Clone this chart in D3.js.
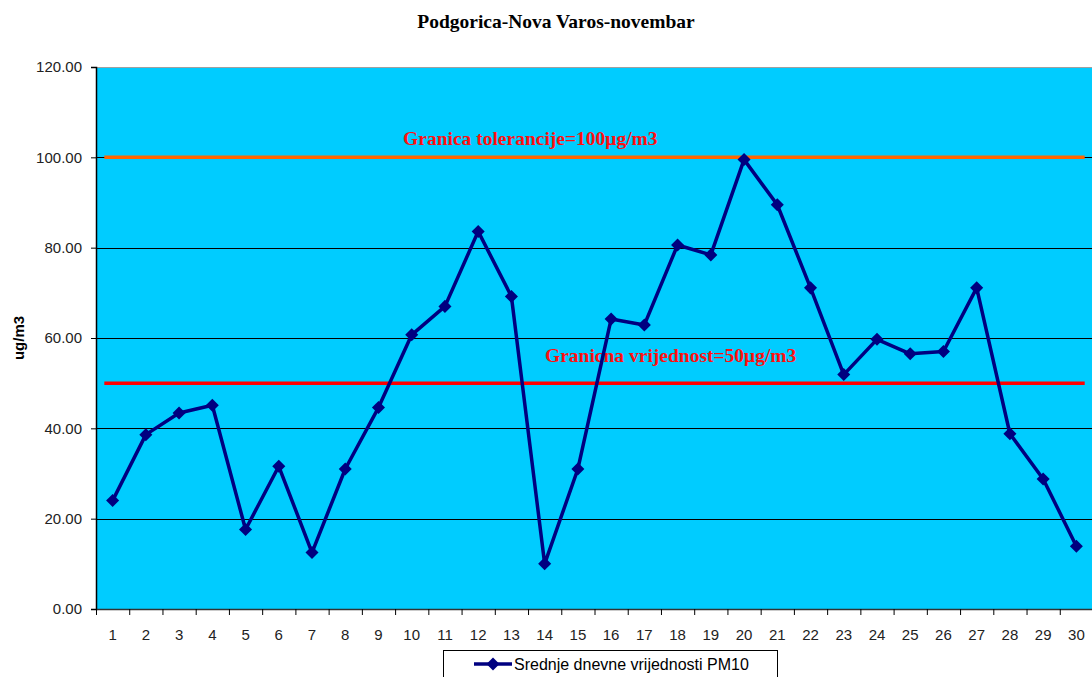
<!DOCTYPE html>
<html>
<head>
<meta charset="utf-8">
<script src="https://cdn.jsdelivr.net/npm/d3@7"></script>
<style>
  html, body { margin: 0; padding: 0; background: #ffffff; }
  svg { display: block; }
</style>
</head>
<body>
<script>
const days = [1,2,3,4,5,6,7,8,9,10,11,12,13,14,15,16,17,18,19,20,21,22,23,24,25,26,27,28,29,30];
const pm10 = [24.0,38.6,43.4,45.1,17.6,31.6,12.5,31.0,44.6,60.7,67.0,83.6,69.2,10.0,31.0,64.2,62.9,80.6,78.4,99.5,89.5,71.1,51.9,59.7,56.5,57.0,71.1,38.8,28.8,13.9];
const yTicks = [0,20,40,60,80,100,120];
const limits = [
  {value: 100, label: "Granica tolerancije=100μg/m3", color: "#FF6600"},
  {value: 50, label: "Granicna vrijednost=50μg/m3", color: "#FF0000"}
];
const title = "Podgorica-Nova Varos-novembar";
const yTitle = "ug/m3";
const seriesName = "Srednje dnevne vrijednosti PM10";

const W = 1092, H = 677;
const plot = {left: 96, right: 1093, top: 67, bottom: 609};

const svg = d3.select("body").append("svg").attr("width", W).attr("height", H);

const x = d3.scaleBand().domain(days).range([plot.left, plot.right]).padding(0);
const y = d3.scaleLinear().domain([0, 120]).range([plot.bottom, plot.top]);
const bw = x.bandwidth();
const cx = d => x(d) + bw / 2;

// plot background
svg.append("rect")
  .attr("x", plot.left).attr("y", plot.top)
  .attr("width", plot.right - plot.left).attr("height", plot.bottom - plot.top)
  .attr("fill", "#00CCFF");

// top border
svg.append("line")
  .attr("x1", plot.left).attr("x2", plot.right)
  .attr("y1", plot.top + 0.5).attr("y2", plot.top + 0.5)
  .attr("stroke", "#a0a0a0").attr("stroke-width", 1);

// gridlines
svg.append("g").selectAll("line").data(yTicks.filter(t => t > 0 && t < 120)).join("line")
  .attr("x1", plot.left).attr("x2", plot.right)
  .attr("y1", d => Math.round(y(d)) + 0.5).attr("y2", d => Math.round(y(d)) + 0.5)
  .attr("stroke", "#000").attr("stroke-width", 1);

// Y axis
const yAxis = d3.axisLeft(y).tickValues(yTicks).tickFormat(d3.format(".2f")).tickSize(5).tickPadding(9);
const gy = svg.append("g").attr("transform", `translate(${plot.left},0)`).call(yAxis);
gy.attr("font-size", 15).attr("font-family", "Liberation Sans, Arial, sans-serif");
gy.select(".domain").attr("stroke", "#000").attr("stroke-width", 1.5);
gy.selectAll(".tick line").attr("stroke", "#000");
gy.selectAll("text").attr("fill", "#222");

// X axis
const xAxis = d3.axisBottom(x).tickSize(0).tickPadding(20);
const gx = svg.append("g").attr("transform", `translate(0,${plot.bottom})`).call(xAxis);
gx.attr("font-size", 15).attr("font-family", "Liberation Sans, Arial, sans-serif");
gx.select(".domain").attr("stroke", "#333").attr("stroke-width", 1.5);
gx.selectAll("text").attr("fill", "#222");
// tick marks at band boundaries
svg.append("g").selectAll("line").data(days).join("line")
  .attr("x1", d => x(d) + 0.5).attr("x2", d => x(d) + 0.5)
  .attr("y1", plot.bottom).attr("y2", plot.bottom + 6)
  .attr("stroke", "#000").attr("stroke-width", 1);

// limit lines
svg.append("g").selectAll("line").data(limits).join("line")
  .attr("x1", plot.left + bw * 0.25).attr("x2", plot.right - bw * 0.25)
  .attr("y1", d => y(d.value)).attr("y2", d => y(d.value))
  .attr("stroke", d => d.color).attr("stroke-width", 3.5);

// limit labels
const labelPos = [{anchorDay: 10, dx: 8, dy: -12}, {anchorDay: 14, dx: 17, dy: -21}];
svg.append("g").selectAll("text").data(limits).join("text")
  .attr("x", (d, i) => x(labelPos[i].anchorDay) + labelPos[i].dx)
  .attr("y", (d, i) => y(d.value) + labelPos[i].dy)
  .attr("font-family", "Liberation Serif, Times New Roman, serif")
  .attr("font-weight", "bold").attr("font-size", 19.5)
  .attr("fill", "#FF1010")
  .text(d => d.label);

// series line
const line = d3.line().x((d, i) => cx(days[i])).y(d => y(d));
svg.append("path").datum(pm10)
  .attr("d", line).attr("fill", "none")
  .attr("stroke", "#000080").attr("stroke-width", 3.5).attr("stroke-linejoin", "round");

// markers
const diamond = d3.symbol().type(d3.symbolSquare).size(85);
svg.append("g").selectAll("path").data(pm10).join("path")
  .attr("d", diamond)
  .attr("transform", (d, i) => `translate(${cx(days[i])},${y(d)}) rotate(45)`)
  .attr("fill", "#000080");

// title
svg.append("text")
  .attr("x", 556).attr("y", 28).attr("text-anchor", "middle")
  .attr("font-family", "Liberation Serif, Times New Roman, serif")
  .attr("font-weight", "bold").attr("font-size", 19.5).attr("fill", "#000")
  .text(title);

// y title
svg.append("text")
  .attr("transform", `translate(24,${(plot.top + plot.bottom) / 2}) rotate(-90)`)
  .attr("text-anchor", "middle")
  .attr("font-family", "Liberation Sans, Arial, sans-serif")
  .attr("font-weight", "bold").attr("font-size", 15).attr("fill", "#000")
  .text(yTitle);

// legend
const lg = svg.append("g");
lg.append("rect").attr("x", 443.5).attr("y", 650.5).attr("width", 334).attr("height", 40)
  .attr("fill", "#fff").attr("stroke", "#000").attr("stroke-width", 1);
lg.append("line").attr("x1", 474).attr("x2", 512).attr("y1", 664).attr("y2", 664)
  .attr("stroke", "#000080").attr("stroke-width", 3.5);
lg.append("path").attr("d", diamond).attr("transform", "translate(493,664) rotate(45)").attr("fill", "#000080");
lg.append("text").attr("x", 514).attr("y", 670)
  .attr("font-family", "Liberation Sans, Arial, sans-serif")
  .attr("font-size", 16).attr("fill", "#000")
  .text(seriesName);
</script>
</body>
</html>
